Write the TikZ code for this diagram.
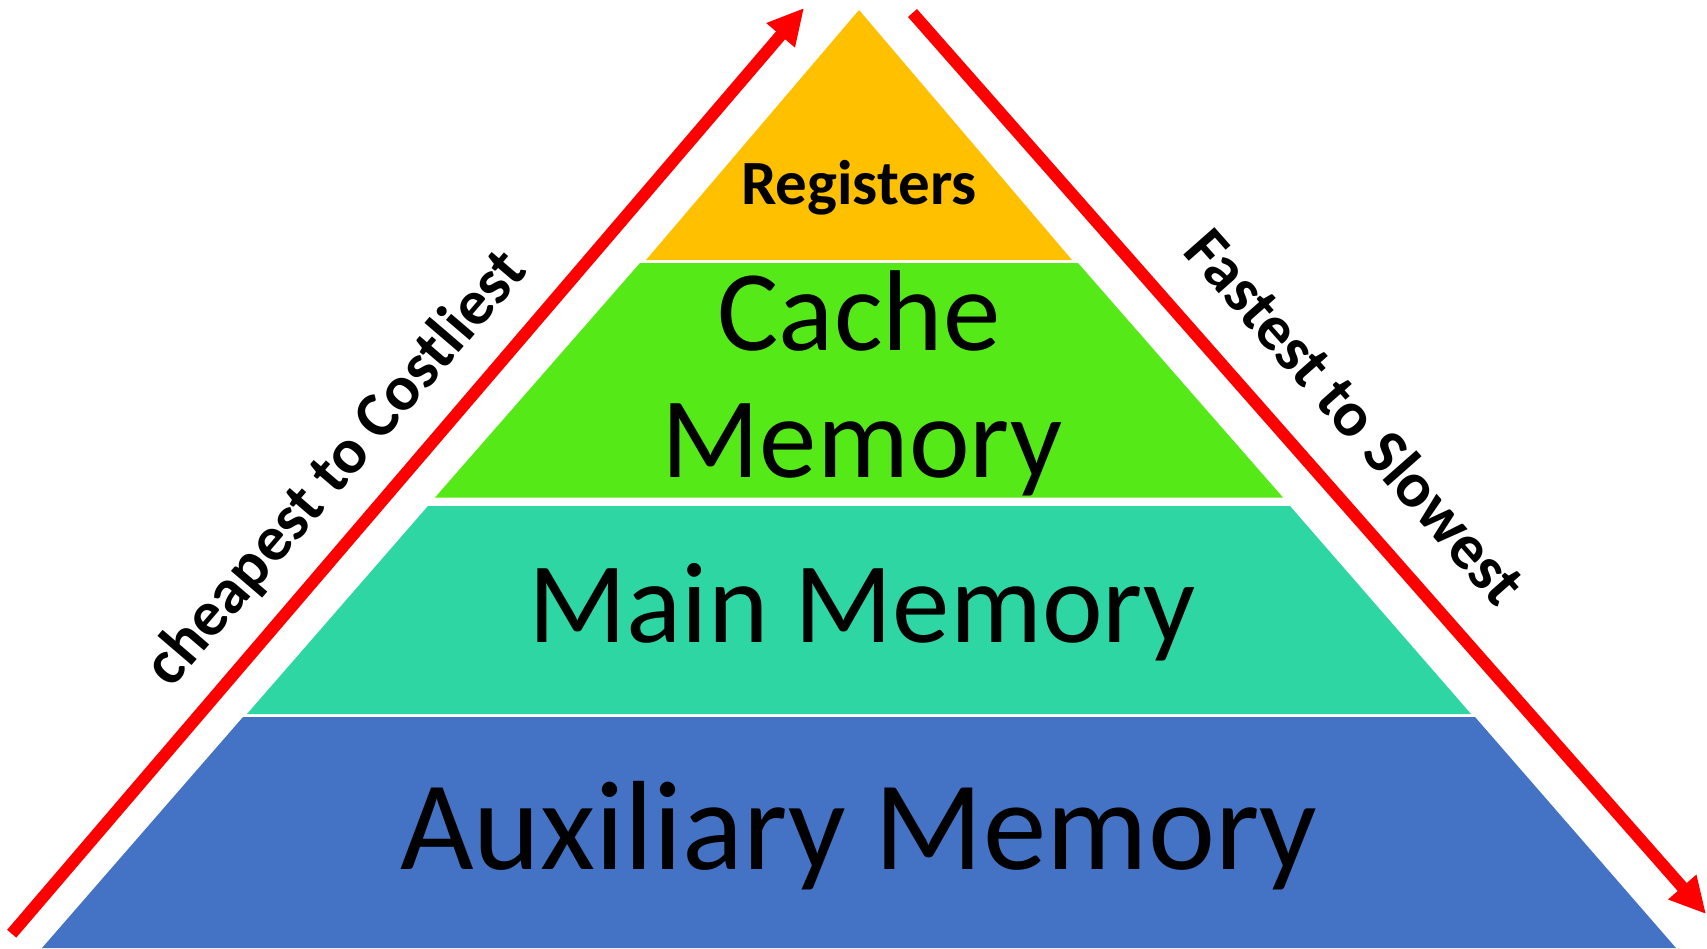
\documentclass[tikz,border=0pt]{standalone}
\usepackage{fontspec}
\newfontfamily\labelfont{Carlito}
\usetikzlibrary{arrows.meta}

\definecolor{regcol}{RGB}{255,192,0}
\definecolor{cachecol}{RGB}{85,234,23}
\definecolor{maincol}{RGB}{46,214,163}
\definecolor{auxcol}{RGB}{68,114,196}
\definecolor{arrowred}{RGB}{255,0,0}

\tikzset{
  layer/.style={draw=none},
  redarrow/.style={draw=arrowred, line width=12pt, -{Triangle[length=36pt,width=35pt]}},
  bigtext/.style={font=\labelfont\fontsize{115}{126}\selectfont, inner sep=0pt, anchor=base},
  sidetext/.style={font=\labelfont\bfseries\fontsize{64}{72}\selectfont, inner sep=0pt}
}

\begin{document}
\begin{tikzpicture}[x=1pt,y=-1pt]
  \useasboundingbox (0,0) rectangle (1707,948);
  \fill[white] (0,0) rectangle (1707,948);

  % pyramid layers
  \fill[regcol]   (859,10) -- (1072,260) -- (646,260) -- cycle;
  \fill[cachecol] (640,263) -- (1078,263) -- (1283,497.5) -- (435,497.5) -- cycle;
  \fill[maincol]  (428,506) -- (1290,506) -- (1471,714) -- (247,714) -- cycle;
  \fill[auxcol]   (243,717) -- (1475,717) -- (1676,948) -- (42,948) -- cycle;

  % layer labels
  \node[bigtext, font=\labelfont\bfseries\fontsize{63}{70}\selectfont] (reg) at (859,204.5) {Registers};
  \node[bigtext] (cache1) at (859,350.5) {Cache};
  \node[bigtext] (cache2) at (862,477) {Memory};
  \node[bigtext] (main) at (862,642) {Main Memory};
  \node[bigtext, font=\labelfont\fontsize{127}{140}\selectfont] (aux) at (859,869) {Auxiliary Memory};

  % side arrows
  \coordinate (lstart) at (11.7,933.7);
  \coordinate (ltip) at (804,8);
  \coordinate (rstart) at (912.5,13);
  \coordinate (rtip) at (1706,914);
  \draw[redarrow] (lstart) -- (ltip);
  \draw[redarrow] (rstart) -- (rtip);

  % side labels
  \node[sidetext, rotate=49.45] (cost) at (337,469) {cheapest to Costliest};
  \node[sidetext, rotate=-48.6] (speed) at (1356,416) {Fastest to Slowest};
\end{tikzpicture}
\end{document}
